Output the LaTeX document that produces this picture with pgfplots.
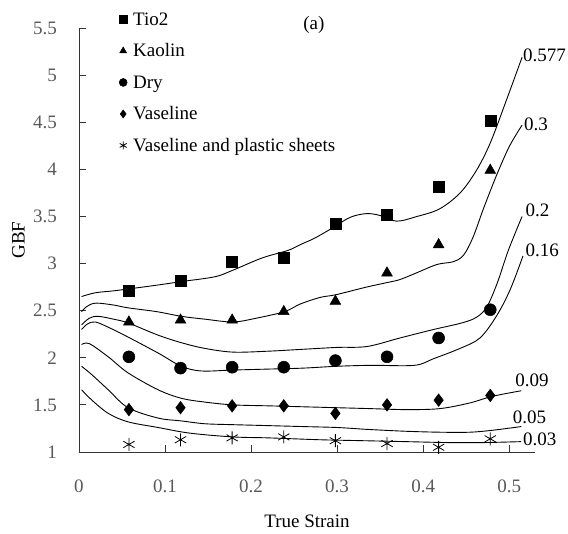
\documentclass[border=0pt]{standalone}
\usepackage{fontspec}
\setmainfont{Liberation Serif}
\usepackage{pgfplots}
\pgfplotsset{compat=1.18}
\newcommand\fs{\fontsize{19bp}{22bp}\selectfont}
\definecolor{tickgray}{HTML}{595959}
\pgfplotsset{
  mleg/.style={legend image code/.code={%
    \path[draw=none, fill=none] (0bp,-4bp) rectangle (14bp,4bp);
    \draw[##1, mark size=4bp] plot coordinates {(4bp,0bp)};}},
  curve/.style={smooth, tension=0.55, no markers, black, line width=0.9bp, forget plot},
  pts/.style={only marks, black, mark options={fill=black, draw=black, line width=0.5bp}, mleg},
}
\begin{document}
\begin{tikzpicture}
\path[use as bounding box] (-79bp,-82bp) rectangle (489bp,452bp);
\begin{axis}[
  at={(0,0)}, anchor=south west,
  scale only axis, width=456bp, height=424bp,
  xmin=0, xmax=0.53, ymin=1, ymax=5.5,
  axis x line*=bottom, axis y line*=left,
  axis line style={-, black!80, line width=0.8bp},
  xtick={0,0.1,0.2,0.3,0.4,0.5}, xticklabels={0,0.1,0.2,0.3,0.4,0.5},
  ytick={1,1.5,2,2.5,3,3.5,4,4.5,5,5.5},
  yticklabels={1,1.5,2,2.5,3,3.5,4,4.5,5,5.5},
  tick align=inside, major tick length=7bp,
  tick style={black!80, line width=0.8bp},
  xticklabel style={font=\fs, text=tickgray, inner sep=0pt, anchor=center, yshift=-34.5bp},
  yticklabel style={font=\fs, text=tickgray, inner sep=0pt, anchor=east, xshift=-22bp},
  xlabel={True Strain}, ylabel={GBF},
  every axis x label/.style={at={(axis description cs:0.5,-0.163)}, anchor=center, font=\fs},
  every axis y label/.style={at={(axis description cs:-0.1327,0.5)}, anchor=center, rotate=90, font=\fs},
  clip=false,
  legend style={at={(axis description cs:0.0877,1.0377)}, anchor=north west, draw=none, fill=none,
    inner sep=0pt, font=\fs, row sep=17bp, nodes={inner sep=0pt},
    /tikz/every even column/.append style={text height=13bp, text depth=4bp}},
  legend cell align=left,
]
% fitted curves
\addplot[curve] coordinates {(0.003,2.65) (0.019,2.69) (0.040,2.71) (0.057,2.73) (0.09,2.77) (0.12,2.81) (0.158,2.86) (0.179,2.93) (0.213,3.06) (0.243,3.14) (0.257,3.20) (0.274,3.27) (0.295,3.38) (0.315,3.49) (0.334,3.53) (0.350,3.51) (0.369,3.45) (0.393,3.50) (0.419,3.58) (0.443,3.75) (0.462,3.99) (0.478,4.28) (0.497,4.74) (0.515,5.19)};
\addplot[curve] coordinates {(0.003,2.49) (0.010,2.55) (0.020,2.58) (0.040,2.56) (0.057,2.53) (0.090,2.49) (0.119,2.44) (0.146,2.41) (0.179,2.38) (0.206,2.42) (0.239,2.49) (0.257,2.57) (0.280,2.64) (0.299,2.67) (0.334,2.75) (0.359,2.80) (0.373,2.83) (0.392,2.90) (0.416,2.99) (0.435,3.02) (0.447,3.09) (0.458,3.28) (0.470,3.58) (0.485,3.93) (0.500,4.24) (0.515,4.47)};
\addplot[curve] coordinates {(0.003,2.35) (0.012,2.42) (0.022,2.44) (0.040,2.41) (0.057,2.37) (0.092,2.24) (0.119,2.16) (0.146,2.10) (0.179,2.06) (0.22,2.07) (0.26,2.09) (0.30,2.11) (0.335,2.12) (0.373,2.21) (0.412,2.30) (0.445,2.37) (0.462,2.43) (0.474,2.54) (0.486,2.79) (0.499,3.14) (0.515,3.50)};
\addplot[curve] coordinates {(0.003,2.30) (0.010,2.36) (0.019,2.38) (0.035,2.32) (0.057,2.22) (0.092,2.05) (0.119,1.91) (0.142,1.86) (0.179,1.87) (0.22,1.88) (0.26,1.89) (0.30,1.91) (0.34,1.92) (0.390,1.92) (0.412,1.99) (0.443,2.10) (0.466,2.21) (0.485,2.44) (0.501,2.72) (0.516,3.08)};
\addplot[curve] coordinates {(0.003,2.14) (0.012,2.15) (0.034,2.01) (0.057,1.84) (0.092,1.66) (0.119,1.57) (0.146,1.53) (0.179,1.50) (0.22,1.49) (0.26,1.48) (0.30,1.47) (0.34,1.46) (0.38,1.45) (0.419,1.46) (0.454,1.52) (0.480,1.59) (0.514,1.65)};
\addplot[curve] coordinates {(0.003,1.91) (0.015,1.82) (0.034,1.66) (0.057,1.47) (0.092,1.36) (0.119,1.33) (0.146,1.30) (0.179,1.29) (0.22,1.28) (0.26,1.27) (0.30,1.26) (0.335,1.24) (0.38,1.22) (0.42,1.21) (0.454,1.21) (0.48,1.23) (0.514,1.27)};
\addplot[curve] coordinates {(0.003,1.66) (0.015,1.55) (0.034,1.41) (0.057,1.32) (0.092,1.26) (0.129,1.20) (0.179,1.16) (0.22,1.15) (0.28,1.13) (0.33,1.12) (0.38,1.11) (0.43,1.10) (0.47,1.10) (0.514,1.11)};
% measured points
\addplot[pts, mark=square*, mark size=5.5bp] coordinates {(0.058,2.71) (0.118,2.82) (0.178,3.02) (0.238,3.06) (0.298,3.42) (0.358,3.52) (0.418,3.82) (0.478,4.52)};
\addlegendentry{Tio2}
\addplot[pts, mark=triangle*, mark size=6.2bp] coordinates {(0.058,2.38) (0.118,2.40) (0.178,2.40) (0.238,2.49) (0.298,2.60) (0.358,2.90) (0.418,3.20) (0.478,3.99)};
\addlegendentry{Kaolin}
\addplot[pts, mark=*, mark size=6bp] coordinates {(0.058,2.01) (0.118,1.89) (0.178,1.90) (0.238,1.90) (0.298,1.97) (0.358,2.01) (0.418,2.21) (0.478,2.51)};
\addlegendentry{Dry}
\addplot[pts, mark=diamond*, mark size=6.3bp] coordinates {(0.058,1.45) (0.118,1.47) (0.178,1.49) (0.238,1.49) (0.298,1.41) (0.358,1.50) (0.418,1.55) (0.478,1.60)};
\addlegendentry{Vaseline}
\addplot[pts, mark=asterisk, mark size=6.5bp, mark options={line width=0.8bp}] coordinates {(0.058,1.08) (0.118,1.13) (0.178,1.15) (0.238,1.16) (0.298,1.12) (0.358,1.09) (0.418,1.05) (0.478,1.14)};
\addlegendentry{Vaseline and plastic sheets}
% curve labels
\node[anchor=west, inner sep=0pt, font=\fs] at (axis cs:0.516,5.21) {0.577};
\node[anchor=west, inner sep=0pt, font=\fs] at (axis cs:0.517,4.48) {0.3};
\node[anchor=west, inner sep=0pt, font=\fs] at (axis cs:0.519,3.56) {0.2};
\node[anchor=west, inner sep=0pt, font=\fs] at (axis cs:0.519,3.14) {0.16};
\node[anchor=west, inner sep=0pt, font=\fs] at (axis cs:0.507,1.76) {0.09};
\node[anchor=west, inner sep=0pt, font=\fs] at (axis cs:0.504,1.37) {0.05};
\node[anchor=west, inner sep=0pt, font=\fs] at (axis cs:0.516,1.13) {0.03};
\node[anchor=center, inner sep=0pt, font=\fs] at (axis cs:0.273,5.53) {(a)};
\end{axis}
\end{tikzpicture}
\end{document}
